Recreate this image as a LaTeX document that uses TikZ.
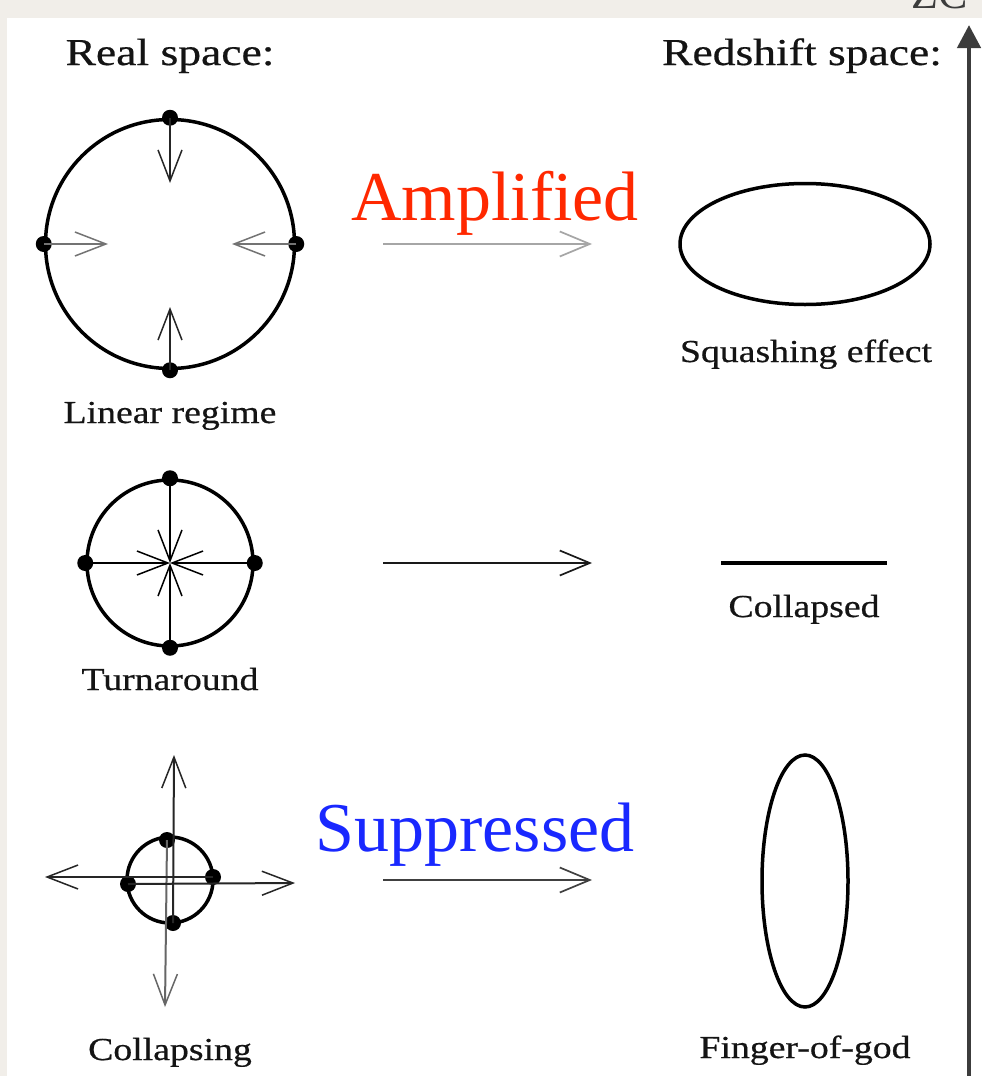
\documentclass[tikz,border=0pt]{standalone}
\usepackage{fontspec}
\setmainfont{Liberation Serif}
\newfontfamily\lblfont[FakeBold=0.5]{Liberation Serif}
\usetikzlibrary{arrows.meta,shapes.geometric}
\definecolor{bgbeige}{RGB}{241,238,233}
\definecolor{ampred}{RGB}{255,40,0}
\definecolor{supblue}{RGB}{25,40,255}
\definecolor{axisgray}{RGB}{60,60,60}
\definecolor{ink}{RGB}{20,20,20}
\begin{document}
\begin{tikzpicture}[x=1pt,y=-1pt,
  heading/.style={font=\lblfont\fontsize{38}{40}\selectfont, text=ink, xscale=1.2, anchor=base, inner sep=0},
  lbl/.style={font=\lblfont\fontsize{32}{34}\selectfont, text=ink, xscale=1.18, anchor=base, inner sep=0},
  big/.style={font=\fontsize{70}{72}\selectfont, anchor=base, inner sep=0},
  dot/.style={circle, fill=black, inner sep=0, minimum size=16pt},
  ring/.style={draw=black, circle, line width=3.5pt, inner sep=0},
  oval/.style={draw=black, ellipse, line width=3.5pt, inner sep=0},
  vee/.style={-{Straight Barb[length=31pt,width=24pt,line width=1.5pt]}, line width=2.2pt},
  midarrow/.style={-{Straight Barb[length=30pt,width=25pt,line width=1.7pt]}, line width=2.6pt},
]
\useasboundingbox (0,0) rectangle (982,1076);
\fill[bgbeige] (0,0) rectangle (982,1076);
\begin{scope}
  \clip (880,0) rectangle (982,18);
  \node[font=\fontsize{44}{46}\selectfont, text=axisgray, anchor=base west, inner sep=0] (zc) at (911,9) {ZC};
\end{scope}
\fill[white] (7,18) rectangle (982,1076);

% headings
\node[heading] (hreal) at (170,65) {Real space:};
\node[heading] (hred) at (802,65) {Redshift space:};

% ---------- Linear regime ----------
\node[ring, minimum size=249pt] (lin) at (170,244) {};
\node[dot] (lt) at (lin.north) {};
\node[dot] (lb) at (lin.south) {};
\node[dot] (ll) at (lin.west) {};
\node[dot] (lr) at (lin.east) {};
\coordinate (ltt) at (170,183);
\coordinate (lbt) at (170,307);
\coordinate (llt) at (108,244);
\coordinate (lrt) at (232,244);
\draw[vee, black!85] (lt.center) -- (ltt);
\draw[vee, black!85] (lb.center) -- (lbt);
\draw[vee, black!55] (ll.center) -- (llt);
\draw[vee, black!55] (lr.center) -- (lrt);
\node[lbl] (linlbl) at (170,423) {Linear regime};

% ---------- Turnaround ----------
\node[ring, minimum size=166pt] (turn) at (170,563) {};
\node[dot] (tt) at (turn.north) {};
\node[dot] (tb) at (turn.south) {};
\node[dot] (tl) at (turn.west) {};
\node[dot] (tr) at (turn.east) {};
\coordinate (tc) at (170,563);
\draw[vee, line width=2pt] (tt.center) -- (tc);
\draw[vee, line width=2pt] (tb.center) -- (tc);
\draw[vee, line width=2pt] (tl.center) -- (tc);
\draw[vee, line width=2pt] (tr.center) -- (tc);
\node[lbl] (turnlbl) at (170,690) {Turnaround};

% ---------- Collapsing ----------
\node[ring, minimum size=86pt] (col) at (170,880) {};
\node[dot] (ct) at (167,840) {};
\node[dot] (cb) at (173,923) {};
\node[dot] (cl) at (128,884) {};
\node[dot] (cr) at (213,877) {};
\coordinate (ctt) at (174,755);
\coordinate (cbt) at (165,1007);
\coordinate (clt) at (45,877);
\coordinate (crt) at (295,883);
\draw[vee, line width=2pt, black!85] (cb.center) -- (ctt);
\draw[vee, line width=2pt, black!60] (ct.center) -- (cbt);
\draw[vee, line width=2pt, black!85] (cr.center) -- (clt);
\draw[vee, line width=2pt, black!85] (cl.center) -- (crt);
\node[lbl] (collbl) at (170,1060) {Collapsing};

% ---------- middle arrows ----------
\coordinate (a1s) at (383,244);
\coordinate (a1e) at (592,244);
\coordinate (a2s) at (383,563);
\coordinate (a2e) at (592,563);
\coordinate (a3s) at (383,880);
\coordinate (a3e) at (592,880);
\draw[midarrow, black!35] (a1s) -- (a1e);
\draw[midarrow, black!90] (a2s) -- (a2e);
\draw[midarrow, black!75] (a3s) -- (a3e);
\node[big, text=ampred] (amp) at (495,220) {Amplified};
\node[big, text=supblue] (sup) at (475,851) {Suppressed};

% ---------- redshift space ----------
\node[oval, minimum width=250pt, minimum height=121pt] (squash) at (805,244) {};
\node[lbl] (squashlbl) at (806,362) {Squashing effect};
\coordinate (cl1) at (721,563);
\coordinate (cl2) at (887,563);
\draw[line width=3.5pt] (cl1) -- (cl2);
\node[lbl] (colpsdlbl) at (804,617) {Collapsed};
\node[oval, minimum width=86pt, minimum height=252pt] (fog) at (805,881) {};
\node[lbl] (foglbl) at (805,1058) {Finger-of-god};

% ---------- vertical axis ----------
\coordinate (axb) at (969,1076);
\coordinate (axt) at (969,25);
\draw[axisgray, line width=4.5pt, -{Triangle[length=23pt,width=23pt]}] (axb) -- (axt);
\end{tikzpicture}
\end{document}
